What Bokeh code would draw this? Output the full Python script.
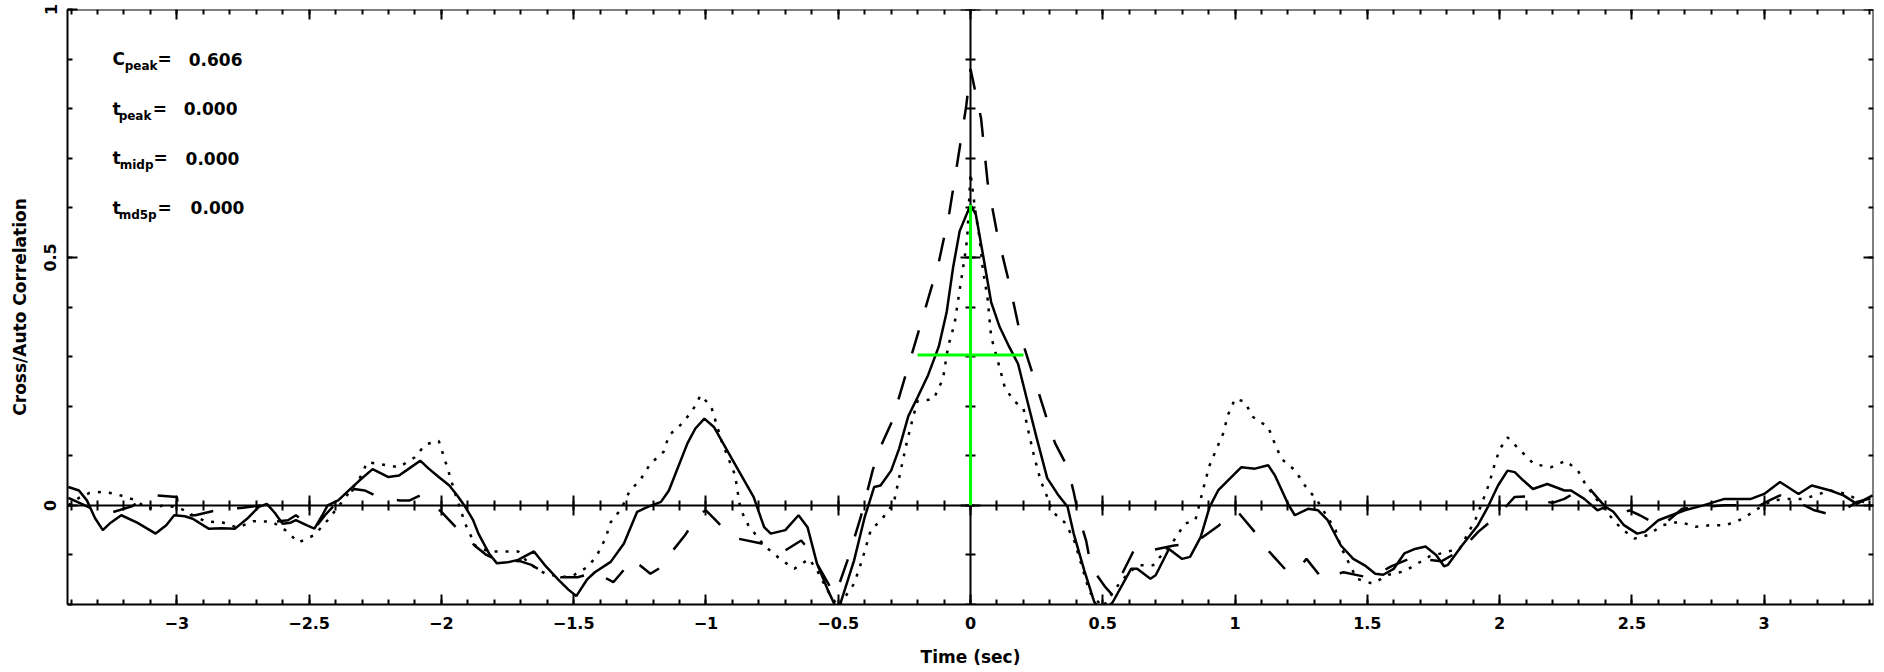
import numpy as np
from bokeh.plotting import figure
from bokeh.models import (Range1d, LinearAxis, FixedTicker, CustomJSTickFormatter, Label)
from bokeh.embed import file_html
from bokeh.resources import INLINE

# ---------------- data ----------------
# cross-correlation (solid)
solid_x = [-3.41, -3.37, -3.34, -3.31, -3.28, -3.25, -3.21, -3.15, -3.08, -3.04, -3.01, -2.97, -2.94,
           -2.88, -2.83, -2.78, -2.73, -2.69, -2.66, -2.63, -2.60, -2.57, -2.55, -2.51, -2.48, -2.45,
           -2.43, -2.39, -2.35, -2.31, -2.26, -2.23, -2.20, -2.16, -2.12, -2.08, -2.05, -2.01, -1.97,
           -1.94, -1.91, -1.88, -1.86, -1.82, -1.79, -1.75, -1.71, -1.65, -1.61, -1.56, -1.52, -1.49,
           -1.45, -1.42, -1.36, -1.31, -1.26, -1.22, -1.17, -1.14, -1.12, -1.07, -1.04, -1.006, -0.97,
           -0.92, -0.855, -0.82, -0.78, -0.755, -0.70, -0.65, -0.616, -0.58, -0.54, -0.505, -0.49,
           -0.44, -0.40, -0.364, -0.34, -0.30, -0.27, -0.235, -0.20, -0.16, -0.12, -0.09, -0.066,
           -0.041, 0.0, 0.02, 0.046, 0.078, 0.11, 0.146, 0.18, 0.215, 0.25, 0.29, 0.33, 0.367, 0.39,
           0.43, 0.468, 0.50, 0.538, 0.607, 0.63, 0.68, 0.70, 0.75, 0.80, 0.83, 0.87, 0.904, 0.936,
           0.967, 1.024, 1.075, 1.125, 1.15, 1.20, 1.226, 1.276, 1.314, 1.35, 1.40, 1.447, 1.49, 1.53,
           1.56, 1.60, 1.64, 1.68, 1.72, 1.76, 1.79, 1.805, 1.855, 1.918, 1.956, 1.994, 2.03, 2.057,
           2.09, 2.126, 2.18, 2.245, 2.27, 2.32, 2.37, 2.40, 2.43, 2.47, 2.52, 2.55, 2.60, 2.65, 2.70,
           2.77, 2.85, 2.95, 3.00, 3.06, 3.13, 3.18, 3.25, 3.30, 3.35, 3.41]
solid_y = [0.037, 0.030, 0.010, -0.025, -0.050, -0.035, -0.020, -0.035, -0.057, -0.040, -0.020, -0.022,
           -0.027, -0.047, -0.046, -0.047, -0.025, -0.003, 0.003, -0.015, -0.037, -0.035, -0.030,
           -0.040, -0.047, -0.020, 0.000, 0.010, 0.030, 0.050, 0.073, 0.065, 0.057, 0.060, 0.075,
           0.090, 0.075, 0.057, 0.040, 0.020, -0.003, -0.030, -0.057, -0.097, -0.117, -0.115, -0.110,
           -0.093, -0.120, -0.149, -0.170, -0.183, -0.150, -0.135, -0.114, -0.077, -0.013, -0.003,
           0.007, 0.030, 0.057, 0.125, 0.155, 0.175, 0.158, 0.111, 0.050, 0.017, -0.044, -0.057,
           -0.050, -0.020, -0.044, -0.118, -0.170, -0.210, -0.195, -0.111, -0.024, 0.037, 0.040,
           0.070, 0.114, 0.180, 0.218, 0.263, 0.320, 0.390, 0.479, 0.553, 0.606, 0.587, 0.509, 0.410,
           0.360, 0.320, 0.285, 0.210, 0.136, 0.055, 0.022, -0.003, -0.057, -0.131, -0.195, -0.215,
           -0.195, -0.128, -0.128, -0.148, -0.141, -0.088, -0.108, -0.104, -0.064, -0.003, 0.030,
           0.047, 0.077, 0.074, 0.081, 0.061, 0.003, -0.020, -0.007, -0.010, -0.030, -0.081, -0.108,
           -0.121, -0.138, -0.140, -0.128, -0.097, -0.088, -0.083, -0.100, -0.123, -0.120, -0.083,
           -0.040, -0.003, 0.040, 0.070, 0.067, 0.050, 0.033, 0.043, 0.030, 0.030, 0.013, -0.010,
           -0.003, -0.013, -0.040, -0.057, -0.053, -0.030, -0.020, -0.010, 0.000, 0.013, 0.013, 0.023,
           0.047, 0.023, 0.040, 0.030, 0.020, 0.003, 0.020]

# auto-correlation 1 (dotted)
dot_x = [-3.41, -3.37, -3.33, -3.28, -3.23, -3.16, -3.11, -3.05, -2.99, -2.95, -2.89, -2.83, -2.77,
         -2.71, -2.64, -2.59, -2.54, -2.48, -2.43, -2.39, -2.35, -2.31, -2.28, -2.23, -2.16, -2.10,
         -2.06, -2.01, -1.99, -1.97, -1.95, -1.91, -1.87, -1.82, -1.76, -1.71, -1.67, -1.61, -1.55,
         -1.50, -1.45, -1.415, -1.38, -1.36, -1.32, -1.29, -1.245, -1.21, -1.16, -1.14, -1.09, -1.05,
         -1.02, -0.98, -0.94, -0.89, -0.87, -0.84, -0.78, -0.72, -0.666, -0.61, -0.58, -0.54, -0.50,
         -0.44, -0.41, -0.377, -0.335, -0.29, -0.26, -0.24, -0.216, -0.20, -0.14, -0.104, -0.085,
         -0.06, -0.041, -0.022, -0.0125, 0.0, 0.019, 0.034, 0.046, 0.065, 0.078, 0.11, 0.13, 0.165,
         0.20, 0.22, 0.24, 0.265, 0.29, 0.31, 0.355, 0.39, 0.45, 0.50, 0.57, 0.63, 0.69, 0.77, 0.81,
         0.85, 0.885, 0.904, 0.93, 0.955, 0.973, 1.00, 1.036, 1.068, 1.125, 1.15, 1.175, 1.226,
         1.264, 1.31, 1.38, 1.40, 1.46, 1.52, 1.58, 1.64, 1.735, 1.85, 1.91, 1.937, 1.96, 1.98,
         2.00, 2.03, 2.08, 2.13, 2.195, 2.25, 2.296, 2.327, 2.37, 2.415, 2.46, 2.51, 2.56, 2.617,
         2.68, 2.74, 2.80, 2.855, 2.92, 2.975, 3.03, 3.09, 3.15, 3.25, 3.31, 3.36, 3.41]
dot_y = [0.000, 0.015, 0.025, 0.027, 0.023, 0.011, -0.007, 0.000, -0.005, -0.017, -0.033, -0.034,
         -0.045, -0.032, -0.033, -0.050, -0.075, -0.060, -0.030, -0.003, 0.025, 0.053, 0.087, 0.083,
         0.077, 0.097, 0.123, 0.130, 0.097, 0.063, 0.027, -0.037, -0.083, -0.093, -0.093, -0.093,
         -0.117, -0.137, -0.145, -0.141, -0.125, -0.104, -0.067, -0.034, -0.007, 0.027, 0.054, 0.084,
         0.108, 0.141, 0.165, 0.192, 0.222, 0.199, 0.128, 0.061, -0.007, -0.040, -0.081, -0.108,
         -0.128, -0.108, -0.131, -0.172, -0.205, -0.158, -0.111, -0.050, -0.028, 0.005, 0.080, 0.129,
         0.180, 0.210, 0.214, 0.255, 0.319, 0.367, 0.434, 0.500, 0.538, 0.670, 0.590, 0.540, 0.479,
         0.415, 0.340, 0.278, 0.237, 0.210, 0.196, 0.147, 0.100, 0.050, 0.017, -0.013, -0.034,
         -0.067, -0.175, -0.205, -0.152, -0.121, -0.121, -0.070, -0.037, -0.030, 0.044, 0.081, 0.114,
         0.145, 0.182, 0.215, 0.209, 0.178, 0.158, 0.125, 0.094, 0.071, 0.040, 0.010, -0.050, -0.084,
         -0.148, -0.158, -0.140, -0.133, -0.103, -0.087, -0.027, 0.010, 0.043, 0.080, 0.113, 0.137,
         0.110, 0.083, 0.077, 0.090, 0.070, 0.040, 0.010, -0.020, -0.047, -0.067, -0.060, -0.040,
         -0.033, -0.043, -0.040, -0.040, -0.027, -0.007, 0.010, 0.013, 0.013, 0.030, 0.023, 0.010,
         0.000]

# auto-correlation 2 (dashed)
dash_x = [-3.41, -3.36, -3.30, -3.25, -3.17, -3.12, -3.08, -3.00, -2.99, -2.93, -2.85, -2.75, -2.68,
          -2.63, -2.58, -2.55, -2.48, -2.44, -2.40, -2.33, -2.29, -2.25, -2.16, -2.12, -2.08, -2.00,
          -1.94, -1.87, -1.83, -1.79, -1.70, -1.66, -1.62, -1.55, -1.485, -1.45, -1.42, -1.35, -1.31,
          -1.28, -1.21, -1.17, -1.14, -1.08, -1.025, -1.00, -0.956, -0.92, -0.88, -0.79, -0.75, -0.70,
          -0.64, -0.61, -0.58, -0.53, -0.51, -0.465, -0.415, -0.37, -0.34, -0.30, -0.28, -0.23, -0.18,
          -0.12, -0.08, -0.05, -0.016, 0.0, 0.02, 0.04, 0.065, 0.10, 0.15, 0.19, 0.25, 0.30, 0.32,
          0.367, 0.39, 0.41, 0.437, 0.456, 0.51, 0.535, 0.576, 0.62, 0.65, 0.68, 0.77, 0.82, 0.86,
          0.94, 0.975, 1.01, 1.075, 1.13, 1.20, 1.235, 1.27, 1.33, 1.37, 1.41, 1.50, 1.55, 1.59, 1.68,
          1.73, 1.78, 1.855, 1.92, 1.994, 2.057, 2.10, 2.145, 2.20, 2.245, 2.33, 2.37, 2.40, 2.45,
          2.49, 2.53, 2.61, 2.65, 2.69, 2.78, 2.85, 2.90, 2.975, 3.02, 3.06, 3.14, 3.19, 3.24, 3.31,
          3.35, 3.41]
dash_y = [0.015, 0.003, -0.012, -0.015, -0.002, 0.015, 0.020, 0.017, -0.020, -0.020, -0.010, -0.005,
          0.000, -0.033, -0.030, -0.020, -0.047, -0.020, 0.003, 0.033, 0.030, 0.020, 0.010, 0.010,
          0.020, -0.013, -0.047, -0.083, -0.100, -0.110, -0.113, -0.120, -0.133, -0.145, -0.145,
          -0.140, -0.135, -0.155, -0.130, -0.108, -0.138, -0.125, -0.101, -0.061, -0.017, -0.010,
          -0.034, -0.055, -0.067, -0.077, -0.085, -0.091, -0.071, -0.090, -0.118, -0.165, -0.180,
          -0.111, -0.024, 0.070, 0.118, 0.165, 0.200, 0.290, 0.380, 0.490, 0.590, 0.690, 0.806, 0.880,
          0.830, 0.780, 0.650, 0.550, 0.440, 0.340, 0.240, 0.155, 0.125, 0.077, 0.027, -0.024, -0.071,
          -0.125, -0.165, -0.180, -0.135, -0.088, -0.085, -0.091, -0.081, -0.078, -0.071, -0.040,
          -0.020, -0.013, -0.054, -0.094, -0.135, -0.130, -0.108, -0.148, -0.140, -0.135, -0.145,
          -0.135, -0.123, -0.103, -0.110, -0.113, -0.090, -0.053, -0.020, 0.017, 0.018, 0.010, 0.005,
          0.013, 0.040, 0.015, -0.003, -0.020, -0.010, -0.020, -0.043, -0.025, -0.007, -0.003, 0.000,
          0.000, -0.003, 0.010, 0.020, 0.003, -0.010, -0.017, -0.007, 0.007, 0.015]

# peak statistics
c_peak = 0.606
t_peak = 0.000
half_width = 0.2
stat_names = ["C", "t", "t", "t"]
stat_subs = ["peak", "peak", "midp", "md5p"]
stat_values = ["0.606", "0.000", "0.000", "0.000"]

# axes
x_lim = [-3.4133, 3.4133]
y_lim = [-0.2, 1.0]
x_ticks = [-3.0, -2.5, -2.0, -1.5, -1.0, -0.5, 0.0, 0.5, 1.0, 1.5, 2.0, 2.5, 3.0]
x_tick_labels = ["\u22123", "\u22122.5", "\u22122", "\u22121.5", "\u22121", "\u22120.5", "0",
                 "0.5", "1", "1.5", "2", "2.5", "3"]
y_ticks = [0.0, 0.5, 1.0]
y_tick_labels = ["0", "0.5", "1"]

# ---------------- figure ----------------
FONT = "DejaVu Sans"
p = figure(width=1884, height=672, output_backend="svg", toolbar_location=None,
           x_range=Range1d(*x_lim), y_range=Range1d(*y_lim),
           x_axis_type=None, y_axis_type=None,
           min_border_left=67, min_border_right=11, min_border_top=9, min_border_bottom=68)
p.outline_line_color = None
p.background_fill_color = "white"
p.border_fill_color = "white"

x_minor = [round(v, 2) for v in np.arange(-3.4, 3.41, 0.1)]
y_minor = [round(v, 2) for v in np.arange(-0.2, 1.01, 0.1)]


def style_axis(ax, tick_in, tick_out):
    ax.axis_line_color = "black"
    ax.axis_line_width = 2
    ax.major_tick_line_color = "black"
    ax.major_tick_line_width = 2
    ax.minor_tick_line_color = "black"
    ax.minor_tick_line_width = 2
    ax.major_tick_in = tick_in
    ax.major_tick_out = tick_out
    ax.minor_tick_in = tick_in // 2
    ax.minor_tick_out = tick_out // 2
    ax.major_label_text_color = "black"
    ax.axis_label_text_color = "black"


blank = CustomJSTickFormatter(code="return ''")

# bottom axis (labelled)
xax = LinearAxis(ticker=FixedTicker(ticks=x_ticks, minor_ticks=x_minor),
                 axis_label="Time (sec)",
                 major_label_overrides=dict(zip(x_ticks, x_tick_labels)))
style_axis(xax, 10, 0)
xax.major_label_text_font = FONT
xax.major_label_text_font_style = "bold"
xax.major_label_text_font_size = "16px"
xax.major_label_standoff = 12
xax.axis_label_text_font = FONT
xax.axis_label_text_font_style = "bold"
xax.axis_label_text_font_size = "17px"
xax.axis_label_standoff = 15
p.add_layout(xax, "below")

# left axis (labelled)
yax = LinearAxis(ticker=FixedTicker(ticks=y_ticks, minor_ticks=y_minor),
                 axis_label="Cross/Auto Correlation",
                 major_label_overrides=dict(zip(y_ticks, y_tick_labels)),
                 major_label_orientation="vertical")
style_axis(yax, 10, 0)
yax.major_label_text_font = FONT
yax.major_label_text_font_style = "bold"
yax.major_label_text_font_size = "16px"
yax.major_label_standoff = 11
yax.axis_label_text_font = FONT
yax.axis_label_text_font_style = "bold"
yax.axis_label_text_font_size = "17px"
yax.axis_label_standoff = 12
p.add_layout(yax, "left")

# top and right box axes (ticks only)
top = LinearAxis(ticker=FixedTicker(ticks=x_ticks, minor_ticks=x_minor),
                 formatter=blank, fixed_location=y_lim[1])
style_axis(top, 10, 0)
p.add_layout(top, "above")
right = LinearAxis(ticker=FixedTicker(ticks=y_ticks, minor_ticks=y_minor),
                   formatter=blank, fixed_location=x_lim[1])
style_axis(right, 10, 0)
p.add_layout(right, "right")

# axes through the origin
x0ax = LinearAxis(ticker=FixedTicker(ticks=x_ticks, minor_ticks=x_minor),
                  formatter=blank, fixed_location=0)
style_axis(x0ax, 10, 10)
p.add_layout(x0ax, "below")
y0ax = LinearAxis(ticker=FixedTicker(ticks=y_ticks, minor_ticks=y_minor),
                  formatter=blank, fixed_location=0)
style_axis(y0ax, 10, 10)
p.add_layout(y0ax, "left")

# curves
p.line(solid_x, solid_y, line_color="black", line_width=2.5)
p.line(dot_x, dot_y, line_color="black", line_width=2.5, line_dash="3 8")
p.line(dash_x, dash_y, line_color="black", line_width=2.5, line_dash="24 24")

# green peak markers
g1 = p.line([t_peak, t_peak], [0, c_peak], line_color="#00ff00", line_width=3)
g2 = p.line([t_peak - half_width, t_peak + half_width], [c_peak / 2, c_peak / 2],
            line_color="#00ff00", line_width=3)
g1.level = "overlay"
g2.level = "overlay"

# statistics text
row_y = [0.9, 0.8, 0.7, 0.6]
name_x = -3.243
sub_x = [-3.197, -3.220, -3.216, -3.220]
eq_x = [-3.073, -3.091, -3.088, -3.073]
val_x = [-2.955, -2.974, -2.967, -2.948]
for i in range(4):
    common = dict(text_font=FONT, text_font_style="bold", text_color="black",
                  text_baseline="alphabetic", text_align="left")
    p.add_layout(Label(x=name_x, y=row_y[i], text=stat_names[i], text_font_size="17px", **common))
    p.add_layout(Label(x=sub_x[i], y=row_y[i] - 0.014, text=stat_subs[i], text_font_size="12px", **common))
    p.add_layout(Label(x=eq_x[i], y=row_y[i], text="=", text_font_size="17px", **common))
    p.add_layout(Label(x=val_x[i], y=row_y[i], text=stat_values[i], text_font_size="17px", **common))

open("out.html", "w").write(file_html(p, INLINE))
